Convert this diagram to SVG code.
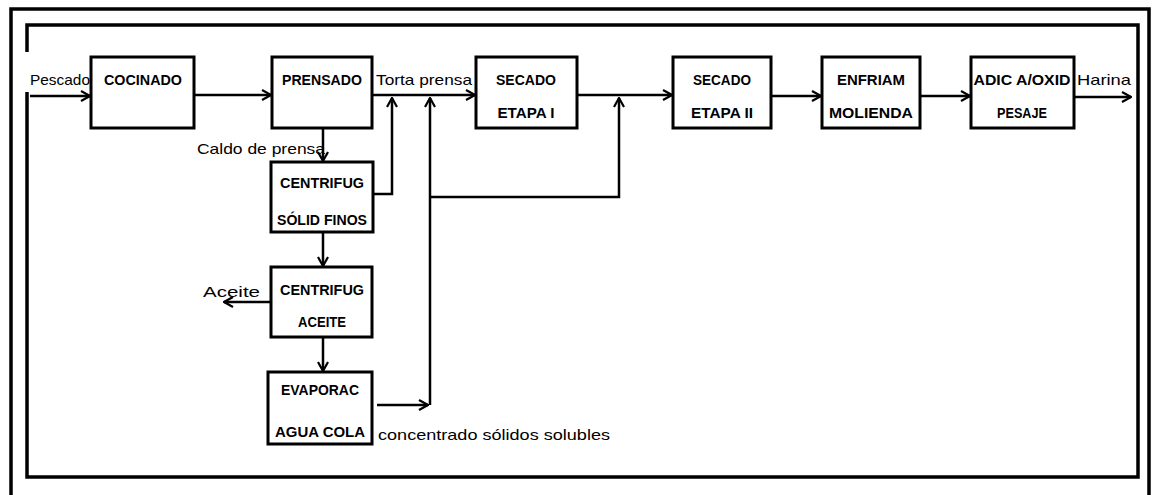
<svg xmlns="http://www.w3.org/2000/svg" width="1154" height="495" viewBox="0 0 1154 495">
<style>
.frame{fill:none;stroke:#000;stroke-width:3.5}
.box{fill:#fff;stroke:#000;stroke-width:3}
.lbl{font-family:"Liberation Sans",Arial,sans-serif;font-weight:bold;font-size:14px;text-anchor:middle;fill:#000}
.txt{font-family:"Liberation Sans",Arial,sans-serif;font-size:15px;fill:#000}
.con{fill:none;stroke:#000;stroke-width:2.5}
</style>
<defs>
<marker id="arr" viewBox="0 0 12 12" refX="11" refY="6" markerWidth="12" markerHeight="12" markerUnits="userSpaceOnUse" orient="auto">
<path d="M2,1 L11,6 L2,11" fill="none" stroke="#000" stroke-width="2.2"/>
</marker>
</defs>
<rect width="1154" height="495" fill="#fff"/>
<g id="frame">
<path class="frame" d="M11,497 L11,9 L1149,9 L1149,497"/>
<path class="frame" d="M27,52 L27,25 L1138,25 L1138,477 L27,477 L27,92"/>
</g>
<g id="connectors">
<path class="con" marker-end="url(#arr)" d="M30,96 L90,96"/>
<path class="con" marker-end="url(#arr)" d="M194,95 L271,95"/>
<path class="con" marker-end="url(#arr)" d="M372,95 L475,95"/>
<path class="con" marker-end="url(#arr)" d="M577,95 L672,95"/>
<path class="con" marker-end="url(#arr)" d="M771,96 L821,96"/>
<path class="con" marker-end="url(#arr)" d="M920,96 L970,96"/>
<path class="con" marker-end="url(#arr)" d="M1074,97 L1131,97"/>
<path class="con" marker-end="url(#arr)" d="M323,128 L323,161"/>
<path class="con" marker-end="url(#arr)" d="M323,232 L323,266"/>
<path class="con" marker-end="url(#arr)" d="M323,337 L323,371"/>
<path class="con" marker-end="url(#arr)" d="M271,302 L224,302"/>
<path class="con" marker-end="url(#arr)" d="M373,194 L392,194 L392,98"/>
<path class="con" marker-end="url(#arr)" d="M430,405 L430,98"/>
<path class="con" marker-end="url(#arr)" d="M430,197 L619,197 L619,98"/>
<path class="con" marker-end="url(#arr)" d="M377,405 L428,405"/>
</g>
<g id="labels">
<text class="txt" x="30" y="85" textLength="60" lengthAdjust="spacingAndGlyphs">Pescado</text>
<text class="txt" x="376" y="85" textLength="96" lengthAdjust="spacingAndGlyphs">Torta prensa</text>
<text class="txt" x="1077" y="85" textLength="54" lengthAdjust="spacingAndGlyphs">Harina</text>
<text class="txt" x="197" y="154" font-size="16" textLength="128" lengthAdjust="spacingAndGlyphs">Caldo de prensa</text>
<text class="txt" x="203" y="297" font-size="18" textLength="57" lengthAdjust="spacingAndGlyphs">Aceite</text>
<text class="txt" x="378" y="440" font-size="16" textLength="232" lengthAdjust="spacingAndGlyphs">concentrado sólidos solubles</text>
</g>
<g id="cocinado">
<rect class="box" x="91" y="57" width="103" height="71"/>
<text class="lbl" x="143" y="85" textLength="78" lengthAdjust="spacingAndGlyphs">COCINADO</text>
</g>
<g id="prensado">
<rect class="box" x="272" y="57" width="100" height="71"/>
<text class="lbl" x="322" y="85" textLength="80" lengthAdjust="spacingAndGlyphs">PRENSADO</text>
</g>
<g id="secado1">
<rect class="box" x="476" y="57" width="101" height="71"/>
<text class="lbl" x="526" y="85" textLength="60" lengthAdjust="spacingAndGlyphs">SECADO</text>
<text class="lbl" x="526" y="118" textLength="57" lengthAdjust="spacingAndGlyphs">ETAPA I</text>
</g>
<g id="secado2">
<rect class="box" x="673" y="57" width="98" height="71"/>
<text class="lbl" x="722" y="85" textLength="58" lengthAdjust="spacingAndGlyphs">SECADO</text>
<text class="lbl" x="722" y="118" textLength="62" lengthAdjust="spacingAndGlyphs">ETAPA II</text>
</g>
<g id="enfriam">
<rect class="box" x="822" y="57" width="98" height="71"/>
<text class="lbl" x="871" y="85" textLength="68" lengthAdjust="spacingAndGlyphs">ENFRIAM</text>
<text class="lbl" x="871" y="118" textLength="84" lengthAdjust="spacingAndGlyphs">MOLIENDA</text>
</g>
<g id="adic">
<rect class="box" x="971" y="57" width="103" height="71"/>
<text class="lbl" x="1022" y="85" textLength="97" lengthAdjust="spacingAndGlyphs">ADIC A/OXID</text>
<text class="lbl" x="1022" y="118" textLength="50" lengthAdjust="spacingAndGlyphs">PESAJE</text>
</g>
<g id="centrifug-solidos">
<rect class="box" x="271" y="162" width="102" height="70"/>
<text class="lbl" x="322" y="188" textLength="84" lengthAdjust="spacingAndGlyphs">CENTRIFUG</text>
<text class="lbl" x="322" y="225" textLength="90" lengthAdjust="spacingAndGlyphs">SÓLID FINOS</text>
</g>
<g id="centrifug-aceite">
<rect class="box" x="271" y="267" width="101" height="70"/>
<text class="lbl" x="322" y="295" textLength="84" lengthAdjust="spacingAndGlyphs">CENTRIFUG</text>
<text class="lbl" x="322" y="327" textLength="48" lengthAdjust="spacingAndGlyphs">ACEITE</text>
</g>
<g id="evaporac">
<rect class="box" x="268" y="372" width="104" height="72"/>
<text class="lbl" x="320" y="395" textLength="78" lengthAdjust="spacingAndGlyphs">EVAPORAC</text>
<text class="lbl" x="320" y="437" textLength="90" lengthAdjust="spacingAndGlyphs">AGUA COLA</text>
</g>
</svg>
